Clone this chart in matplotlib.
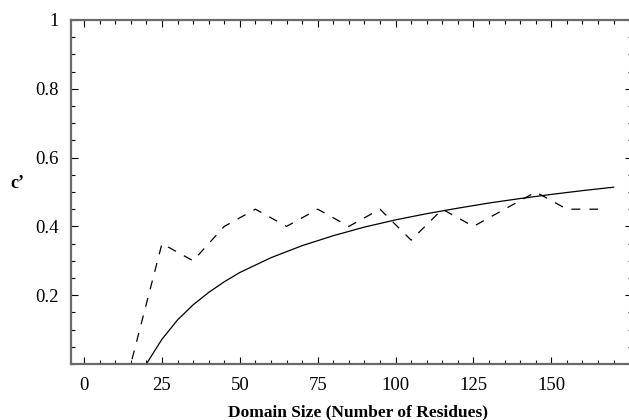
import matplotlib
matplotlib.use("Agg")
import matplotlib.pyplot as plt
from matplotlib.ticker import MultipleLocator, FixedLocator

# solid curve (fitted c')
size_fit = [20, 25, 30, 35, 40, 45, 50, 60, 70, 80, 90, 100, 110, 120, 130, 140, 150, 160, 170]
c_fit = [0.0, 0.072, 0.128, 0.172, 0.208, 0.239, 0.266, 0.309, 0.344, 0.373, 0.398,
         0.419, 0.437, 0.453, 0.468, 0.481, 0.493, 0.504, 0.514]

# dashed line (observed c')
size_obs = [5, 15, 25, 35, 45, 55, 65, 75, 85, 95, 105, 115, 125, 135, 145, 155, 165]
c_obs = [0.0, 0.0, 0.35, 0.30, 0.40, 0.45, 0.40, 0.45, 0.40, 0.45, 0.36, 0.45, 0.40,
         0.45, 0.50, 0.45, 0.45]

x_major = [0, 25, 50, 75, 100, 125, 150]
y_major = [0.2, 0.4, 0.6, 0.8, 1.0]
y_labels = ["0.2", "0.4", "0.6", "0.8", "1"]

plt.rcParams["font.family"] = ["Liberation Serif", "DejaVu Serif"]
plt.rcParams["lines.scale_dashes"] = False

fig = plt.figure(figsize=(6.29, 4.20), dpi=100)
# right frame edge sits just past the canvas, as in the original
ax = fig.add_axes([71 / 629, 1 - 364 / 420, 561 / 629, 344 / 420])

ax.plot(size_fit, c_fit, color="black", linewidth=0.9)
ax.plot(size_obs, c_obs, color="black", linewidth=0.9, linestyle=(0, (6.5, 6.5)))

ax.set_xlim(-4.2, 175.9)
ax.set_ylim(0, 1)

ax.xaxis.set_major_locator(FixedLocator(x_major))
ax.xaxis.set_minor_locator(MultipleLocator(5))
ax.yaxis.set_major_locator(FixedLocator(y_major))
ax.yaxis.set_minor_locator(MultipleLocator(0.05))
ax.set_xticklabels([str(v) for v in x_major])
ax.set_yticklabels(y_labels)

ax.tick_params(which="both", direction="in", top=True, right=True, color="black",
               labelsize=13.5, width=0.8)
ax.tick_params(which="major", length=5, pad=9)
ax.tick_params(which="minor", length=3)

for side in ["left", "bottom", "top", "right"]:
    ax.spines[side].set_color("#6a6a6a")
    ax.spines[side].set_linewidth(1.6)

fig.text(358 / 629, 1 - 412 / 420, "Domain Size (Number of Residues)",
         ha="center", va="center", fontsize=12.5, fontweight="bold")
fig.text(17 / 629, 1 - 184 / 420, "c\u2019", ha="center", va="center",
         fontsize=13, fontweight="bold")

fig.savefig("out.png", dpi=100, facecolor="white")
